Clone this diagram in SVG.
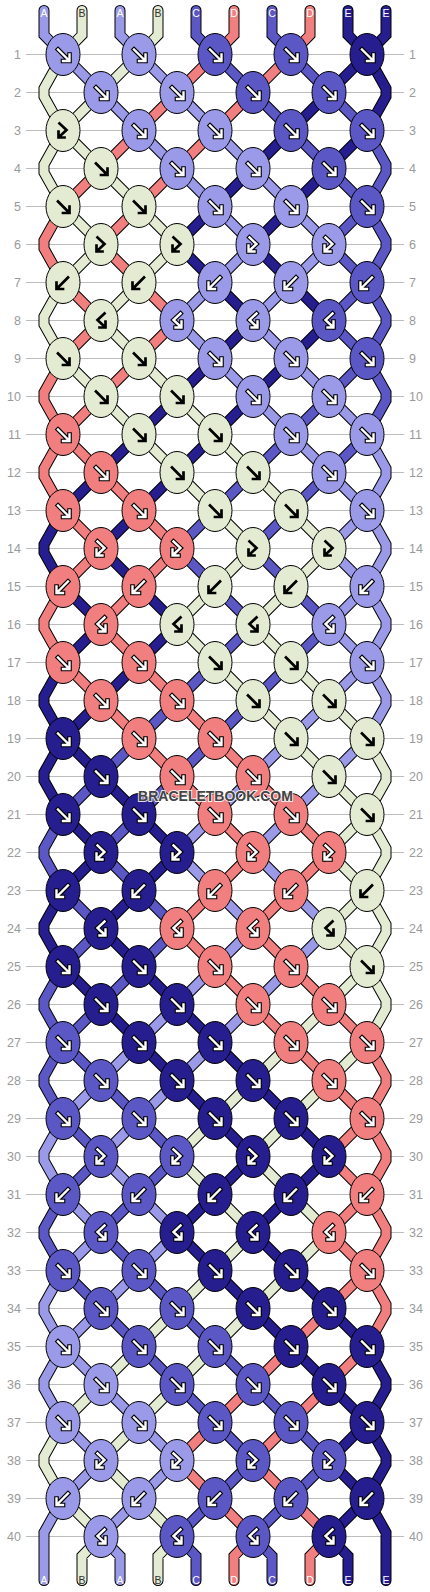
<svg xmlns="http://www.w3.org/2000/svg" xmlns:xlink="http://www.w3.org/1999/xlink" width="430" height="1592" viewBox="0 0 430 1592">
<style>
.nl{font:12.5px "Liberation Sans",Arial,sans-serif;fill:#9a9a9a;text-anchor:end}
.nr{font:12.5px "Liberation Sans",Arial,sans-serif;fill:#9a9a9a;text-anchor:start}
.lt{font:10.5px "Liberation Sans",Arial,sans-serif;text-anchor:middle}
.wl{fill:#fff}
.dl{fill:#333}
.wm{font:bold 14px "Liberation Sans",Arial,sans-serif;text-anchor:middle;fill:#444;stroke:#fff;stroke-width:2;stroke-opacity:.85;paint-order:stroke}
</style>
<defs>
<ellipse id="eA" rx="17" ry="21" fill="#9b9ae8" stroke="#000"/>
<ellipse id="eB" rx="17" ry="21" fill="#e3ecd2" stroke="#000"/>
<ellipse id="eC" rx="17" ry="21" fill="#5b58c6" stroke="#000"/>
<ellipse id="eD" rx="17" ry="21" fill="#f17f7f" stroke="#000"/>
<ellipse id="eE" rx="17" ry="21" fill="#261d8e" stroke="#000"/>
<path id="aF" fill="none" stroke-linecap="square" d="M-5,-5L5,5M0,6.5H6.5V0"/>
<path id="aB" fill="none" stroke-linecap="square" d="M5,-5L-5,5M0,6.5H-6.5V0"/>
<path id="aX" fill="none" stroke-linecap="square" d="M-3.5,-7L3.5,-0.5L-4,6.5M-4.5,1V7H1.5"/>
<path id="aY" fill="none" stroke-linecap="square" d="M3.5,-7L-3.5,-0.5L4,6.5M4.5,1V7H-1.5"/>
<g id="Fw"><use href="#aF" stroke="#000" stroke-width="4.6"/><use href="#aF" stroke="#fff" stroke-width="2.4"/></g>
<g id="Bw"><use href="#aB" stroke="#000" stroke-width="4.6"/><use href="#aB" stroke="#fff" stroke-width="2.4"/></g>
<g id="Xw"><use href="#aX" stroke="#000" stroke-width="4.6"/><use href="#aX" stroke="#fff" stroke-width="2.4"/></g>
<g id="Yw"><use href="#aY" stroke="#000" stroke-width="4.6"/><use href="#aY" stroke="#fff" stroke-width="2.4"/></g>
<g id="Af"><use href="#eA"/><use href="#Fw"/></g>
<g id="Ab"><use href="#eA"/><use href="#Bw"/></g>
<g id="Ax"><use href="#eA"/><use href="#Xw"/></g>
<g id="Ay"><use href="#eA"/><use href="#Yw"/></g>
<g id="Bf"><use href="#eB"/><use href="#aF" stroke="#000" stroke-width="2.7"/></g>
<g id="Bb"><use href="#eB"/><use href="#aB" stroke="#000" stroke-width="2.7"/></g>
<g id="Bx"><use href="#eB"/><use href="#aX" stroke="#000" stroke-width="2.7"/></g>
<g id="By"><use href="#eB"/><use href="#aY" stroke="#000" stroke-width="2.7"/></g>
<g id="Cf"><use href="#eC"/><use href="#Fw"/></g>
<g id="Cb"><use href="#eC"/><use href="#Bw"/></g>
<g id="Cx"><use href="#eC"/><use href="#Xw"/></g>
<g id="Cy"><use href="#eC"/><use href="#Yw"/></g>
<g id="Df"><use href="#eD"/><use href="#Fw"/></g>
<g id="Db"><use href="#eD"/><use href="#Bw"/></g>
<g id="Dx"><use href="#eD"/><use href="#Xw"/></g>
<g id="Dy"><use href="#eD"/><use href="#Yw"/></g>
<g id="Ef"><use href="#eE"/><use href="#Fw"/></g>
<g id="Eb"><use href="#eE"/><use href="#Bw"/></g>
<g id="Ex"><use href="#eE"/><use href="#Xw"/></g>
<g id="Ey"><use href="#eE"/><use href="#Yw"/></g>
<polyline id="p0" points="44,10.5 44,35 63,54.5 101,92.5 139,130.5 177,168.5 215,206.5 253,244.5 215,282.5 177,320.5 215,358.5 253,396.5 291,434.5 329,472.5 367,510.5 386,544.5 386,552.5 367,586.5 329,624.5 367,662.5 386,696.5 386,704.5 367,738.5 329,776.5 291,814.5 253,852.5 291,890.5 329,928.5 291,966.5 253,1004.5 215,1042.5 177,1080.5 139,1118.5 101,1156.5 139,1194.5 177,1232.5 139,1270.5 101,1308.5 63,1346.5 44,1380.5 44,1388.5 63,1422.5 101,1460.5 63,1498.5 44,1532.5 44,1580.5"/>
<polyline id="p1" points="82,10.5 82,35 63,54.5 44,88.5 44,96.5 63,130.5 44,164.5 44,172.5 63,206.5 101,244.5 63,282.5 44,316.5 44,324.5 63,358.5 101,396.5 139,434.5 177,472.5 215,510.5 253,548.5 215,586.5 177,624.5 215,662.5 253,700.5 291,738.5 329,776.5 367,814.5 386,848.5 386,856.5 367,890.5 329,928.5 367,966.5 386,1000.5 386,1008.5 367,1042.5 329,1080.5 291,1118.5 253,1156.5 291,1194.5 329,1232.5 291,1270.5 253,1308.5 215,1346.5 177,1384.5 139,1422.5 101,1460.5 139,1498.5 177,1536.5 158,1556 158,1580.5"/>
<polyline id="p2" points="120,10.5 120,35 139,54.5 177,92.5 215,130.5 253,168.5 291,206.5 329,244.5 291,282.5 253,320.5 291,358.5 329,396.5 367,434.5 386,468.5 386,476.5 367,510.5 329,548.5 367,586.5 386,620.5 386,628.5 367,662.5 329,700.5 291,738.5 253,776.5 215,814.5 177,852.5 215,890.5 253,928.5 215,966.5 177,1004.5 139,1042.5 101,1080.5 63,1118.5 44,1152.5 44,1160.5 63,1194.5 101,1232.5 63,1270.5 44,1304.5 44,1312.5 63,1346.5 101,1384.5 139,1422.5 177,1460.5 139,1498.5 101,1536.5 120,1556 120,1580.5"/>
<polyline id="p3" points="158,10.5 158,35 139,54.5 101,92.5 63,130.5 101,168.5 139,206.5 177,244.5 139,282.5 101,320.5 139,358.5 177,396.5 215,434.5 253,472.5 291,510.5 329,548.5 291,586.5 253,624.5 291,662.5 329,700.5 367,738.5 386,772.5 386,780.5 367,814.5 329,852.5 367,890.5 386,924.5 386,932.5 367,966.5 329,1004.5 291,1042.5 253,1080.5 215,1118.5 177,1156.5 215,1194.5 253,1232.5 215,1270.5 177,1308.5 139,1346.5 101,1384.5 63,1422.5 44,1456.5 44,1464.5 63,1498.5 101,1536.5 82,1556 82,1580.5"/>
<polyline id="p4" points="196,10.5 196,35 215,54.5 253,92.5 291,130.5 329,168.5 367,206.5 386,240.5 386,248.5 367,282.5 329,320.5 367,358.5 386,392.5 386,400.5 367,434.5 329,472.5 291,510.5 253,548.5 291,586.5 329,624.5 291,662.5 253,700.5 215,738.5 177,776.5 139,814.5 101,852.5 139,890.5 177,928.5 139,966.5 101,1004.5 63,1042.5 44,1076.5 44,1084.5 63,1118.5 101,1156.5 63,1194.5 44,1228.5 44,1236.5 63,1270.5 101,1308.5 139,1346.5 177,1384.5 215,1422.5 253,1460.5 215,1498.5 177,1536.5 196,1556 196,1580.5"/>
<polyline id="p5" points="234,10.5 234,35 215,54.5 177,92.5 139,130.5 101,168.5 63,206.5 44,240.5 44,248.5 63,282.5 101,320.5 63,358.5 44,392.5 44,400.5 63,434.5 101,472.5 139,510.5 177,548.5 139,586.5 101,624.5 139,662.5 177,700.5 215,738.5 253,776.5 291,814.5 329,852.5 291,890.5 253,928.5 291,966.5 329,1004.5 367,1042.5 386,1076.5 386,1084.5 367,1118.5 329,1156.5 367,1194.5 386,1228.5 386,1236.5 367,1270.5 329,1308.5 291,1346.5 253,1384.5 215,1422.5 177,1460.5 215,1498.5 253,1536.5 234,1556 234,1580.5"/>
<polyline id="p6" points="272,10.5 272,35 291,54.5 329,92.5 367,130.5 386,164.5 386,172.5 367,206.5 329,244.5 367,282.5 386,316.5 386,324.5 367,358.5 329,396.5 291,434.5 253,472.5 215,510.5 177,548.5 215,586.5 253,624.5 215,662.5 177,700.5 139,738.5 101,776.5 63,814.5 44,848.5 44,856.5 63,890.5 101,928.5 63,966.5 44,1000.5 44,1008.5 63,1042.5 101,1080.5 139,1118.5 177,1156.5 139,1194.5 101,1232.5 139,1270.5 177,1308.5 215,1346.5 253,1384.5 291,1422.5 329,1460.5 291,1498.5 253,1536.5 272,1556 272,1580.5"/>
<polyline id="p7" points="310,10.5 310,35 291,54.5 253,92.5 215,130.5 177,168.5 139,206.5 101,244.5 139,282.5 177,320.5 139,358.5 101,396.5 63,434.5 44,468.5 44,476.5 63,510.5 101,548.5 63,586.5 44,620.5 44,628.5 63,662.5 101,700.5 139,738.5 177,776.5 215,814.5 253,852.5 215,890.5 177,928.5 215,966.5 253,1004.5 291,1042.5 329,1080.5 367,1118.5 386,1152.5 386,1160.5 367,1194.5 329,1232.5 367,1270.5 386,1304.5 386,1312.5 367,1346.5 329,1384.5 291,1422.5 253,1460.5 291,1498.5 329,1536.5 310,1556 310,1580.5"/>
<polyline id="p8" points="348,10.5 348,35 367,54.5 386,88.5 386,96.5 367,130.5 329,168.5 291,206.5 253,244.5 291,282.5 329,320.5 291,358.5 253,396.5 215,434.5 177,472.5 139,510.5 101,548.5 139,586.5 177,624.5 139,662.5 101,700.5 63,738.5 44,772.5 44,780.5 63,814.5 101,852.5 63,890.5 44,924.5 44,932.5 63,966.5 101,1004.5 139,1042.5 177,1080.5 215,1118.5 253,1156.5 215,1194.5 177,1232.5 215,1270.5 253,1308.5 291,1346.5 329,1384.5 367,1422.5 386,1456.5 386,1464.5 367,1498.5 329,1536.5 348,1556 348,1580.5"/>
<polyline id="p9" points="386,10.5 386,35 367,54.5 329,92.5 291,130.5 253,168.5 215,206.5 177,244.5 215,282.5 253,320.5 215,358.5 177,396.5 139,434.5 101,472.5 63,510.5 44,544.5 44,552.5 63,586.5 101,624.5 63,662.5 44,696.5 44,704.5 63,738.5 101,776.5 139,814.5 177,852.5 139,890.5 101,928.5 139,966.5 177,1004.5 215,1042.5 253,1080.5 291,1118.5 329,1156.5 291,1194.5 253,1232.5 291,1270.5 329,1308.5 367,1346.5 386,1380.5 386,1388.5 367,1422.5 329,1460.5 367,1498.5 386,1532.5 386,1580.5"/>
</defs>
<rect width="430" height="1592" fill="#fff"/>
<g id="grid">
<path stroke="#bdbdbd" stroke-width="1" d="M26,54.5H404M26,92.5H404M26,130.5H404M26,168.5H404M26,206.5H404M26,244.5H404M26,282.5H404M26,320.5H404M26,358.5H404M26,396.5H404M26,434.5H404M26,472.5H404M26,510.5H404M26,548.5H404M26,586.5H404M26,624.5H404M26,662.5H404M26,700.5H404M26,738.5H404M26,776.5H404M26,814.5H404M26,852.5H404M26,890.5H404M26,928.5H404M26,966.5H404M26,1004.5H404M26,1042.5H404M26,1080.5H404M26,1118.5H404M26,1156.5H404M26,1194.5H404M26,1232.5H404M26,1270.5H404M26,1308.5H404M26,1346.5H404M26,1384.5H404M26,1422.5H404M26,1460.5H404M26,1498.5H404M26,1536.5H404"/>
<g class="nl">
<text x="21" y="59">1</text><text x="21" y="97">2</text><text x="21" y="135">3</text><text x="21" y="173">4</text><text x="21" y="211">5</text><text x="21" y="249">6</text><text x="21" y="287">7</text><text x="21" y="325">8</text><text x="21" y="363">9</text><text x="21" y="401">10</text><text x="21" y="439">11</text><text x="21" y="477">12</text><text x="21" y="515">13</text><text x="21" y="553">14</text><text x="21" y="591">15</text><text x="21" y="629">16</text><text x="21" y="667">17</text><text x="21" y="705">18</text><text x="21" y="743">19</text><text x="21" y="781">20</text><text x="21" y="819">21</text><text x="21" y="857">22</text><text x="21" y="895">23</text><text x="21" y="933">24</text><text x="21" y="971">25</text><text x="21" y="1009">26</text><text x="21" y="1047">27</text><text x="21" y="1085">28</text><text x="21" y="1123">29</text><text x="21" y="1161">30</text><text x="21" y="1199">31</text><text x="21" y="1237">32</text><text x="21" y="1275">33</text><text x="21" y="1313">34</text><text x="21" y="1351">35</text><text x="21" y="1389">36</text><text x="21" y="1427">37</text><text x="21" y="1465">38</text><text x="21" y="1503">39</text><text x="21" y="1541">40</text>
</g>
<g class="nr">
<text x="409" y="59">1</text><text x="409" y="97">2</text><text x="409" y="135">3</text><text x="409" y="173">4</text><text x="409" y="211">5</text><text x="409" y="249">6</text><text x="409" y="287">7</text><text x="409" y="325">8</text><text x="409" y="363">9</text><text x="409" y="401">10</text><text x="409" y="439">11</text><text x="409" y="477">12</text><text x="409" y="515">13</text><text x="409" y="553">14</text><text x="409" y="591">15</text><text x="409" y="629">16</text><text x="409" y="667">17</text><text x="409" y="705">18</text><text x="409" y="743">19</text><text x="409" y="781">20</text><text x="409" y="819">21</text><text x="409" y="857">22</text><text x="409" y="895">23</text><text x="409" y="933">24</text><text x="409" y="971">25</text><text x="409" y="1009">26</text><text x="409" y="1047">27</text><text x="409" y="1085">28</text><text x="409" y="1123">29</text><text x="409" y="1161">30</text><text x="409" y="1199">31</text><text x="409" y="1237">32</text><text x="409" y="1275">33</text><text x="409" y="1313">34</text><text x="409" y="1351">35</text><text x="409" y="1389">36</text><text x="409" y="1427">37</text><text x="409" y="1465">38</text><text x="409" y="1503">39</text><text x="409" y="1541">40</text>
</g>
</g>
<g id="connectors" fill="none" stroke-linecap="round" stroke-linejoin="miter">
<g stroke="#000" stroke-width="11">
<use href="#p0"/><use href="#p1"/><use href="#p2"/><use href="#p3"/><use href="#p4"/><use href="#p5"/><use href="#p6"/><use href="#p7"/><use href="#p8"/><use href="#p9"/>
</g>
<g stroke-width="9">
<use href="#p0" stroke="#9b9ae8"/><use href="#p1" stroke="#e3ecd2"/><use href="#p2" stroke="#9b9ae8"/><use href="#p3" stroke="#e3ecd2"/><use href="#p4" stroke="#5b58c6"/><use href="#p5" stroke="#f17f7f"/><use href="#p6" stroke="#5b58c6"/><use href="#p7" stroke="#f17f7f"/><use href="#p8" stroke="#261d8e"/><use href="#p9" stroke="#261d8e"/>
</g>
</g>
<g id="string-labels" class="lt">
<text class="wl" x="44" y="16.5">A</text><text class="dl" x="82" y="16.5">B</text><text class="wl" x="120" y="16.5">A</text><text class="dl" x="158" y="16.5">B</text><text class="wl" x="196" y="16.5">C</text><text class="wl" x="234" y="16.5">D</text><text class="wl" x="272" y="16.5">C</text><text class="wl" x="310" y="16.5">D</text><text class="wl" x="348" y="16.5">E</text><text class="wl" x="386" y="16.5">E</text>
<text class="wl" x="44" y="1584">A</text><text class="dl" x="82" y="1584">B</text><text class="wl" x="120" y="1584">A</text><text class="dl" x="158" y="1584">B</text><text class="wl" x="196" y="1584">C</text><text class="wl" x="234" y="1584">D</text><text class="wl" x="272" y="1584">C</text><text class="wl" x="310" y="1584">D</text><text class="wl" x="348" y="1584">E</text><text class="wl" x="386" y="1584">E</text>
</g>
<g id="knots">
<g id="k1-1"><use href="#Af" x="63" y="54.5"/></g><g id="k1-2"><use href="#Af" x="139" y="54.5"/></g><g id="k1-3"><use href="#Cf" x="215" y="54.5"/></g><g id="k1-4"><use href="#Cf" x="291" y="54.5"/></g><g id="k1-5"><use href="#Ef" x="367" y="54.5"/></g>
<g id="k2-1"><use href="#Af" x="101" y="92.5"/></g><g id="k2-2"><use href="#Af" x="177" y="92.5"/></g><g id="k2-3"><use href="#Cf" x="253" y="92.5"/></g><g id="k2-4"><use href="#Cf" x="329" y="92.5"/></g>
<g id="k3-1"><use href="#Bx" x="63" y="130.5"/></g><g id="k3-2"><use href="#Af" x="139" y="130.5"/></g><g id="k3-3"><use href="#Af" x="215" y="130.5"/></g><g id="k3-4"><use href="#Cf" x="291" y="130.5"/></g><g id="k3-5"><use href="#Cf" x="367" y="130.5"/></g>
<g id="k4-1"><use href="#Bf" x="101" y="168.5"/></g><g id="k4-2"><use href="#Af" x="177" y="168.5"/></g><g id="k4-3"><use href="#Af" x="253" y="168.5"/></g><g id="k4-4"><use href="#Cf" x="329" y="168.5"/></g>
<g id="k5-1"><use href="#Bf" x="63" y="206.5"/></g><g id="k5-2"><use href="#Bf" x="139" y="206.5"/></g><g id="k5-3"><use href="#Af" x="215" y="206.5"/></g><g id="k5-4"><use href="#Af" x="291" y="206.5"/></g><g id="k5-5"><use href="#Cf" x="367" y="206.5"/></g>
<g id="k6-1"><use href="#Bx" x="101" y="244.5"/></g><g id="k6-2"><use href="#Bx" x="177" y="244.5"/></g><g id="k6-3"><use href="#Ax" x="253" y="244.5"/></g><g id="k6-4"><use href="#Ax" x="329" y="244.5"/></g>
<g id="k7-1"><use href="#Bb" x="63" y="282.5"/></g><g id="k7-2"><use href="#Bb" x="139" y="282.5"/></g><g id="k7-3"><use href="#Ab" x="215" y="282.5"/></g><g id="k7-4"><use href="#Ab" x="291" y="282.5"/></g><g id="k7-5"><use href="#Cb" x="367" y="282.5"/></g>
<g id="k8-1"><use href="#By" x="101" y="320.5"/></g><g id="k8-2"><use href="#Ay" x="177" y="320.5"/></g><g id="k8-3"><use href="#Ay" x="253" y="320.5"/></g><g id="k8-4"><use href="#Cy" x="329" y="320.5"/></g>
<g id="k9-1"><use href="#Bf" x="63" y="358.5"/></g><g id="k9-2"><use href="#Bf" x="139" y="358.5"/></g><g id="k9-3"><use href="#Af" x="215" y="358.5"/></g><g id="k9-4"><use href="#Af" x="291" y="358.5"/></g><g id="k9-5"><use href="#Cf" x="367" y="358.5"/></g>
<g id="k10-1"><use href="#Bf" x="101" y="396.5"/></g><g id="k10-2"><use href="#Bf" x="177" y="396.5"/></g><g id="k10-3"><use href="#Af" x="253" y="396.5"/></g><g id="k10-4"><use href="#Af" x="329" y="396.5"/></g>
<g id="k11-1"><use href="#Df" x="63" y="434.5"/></g><g id="k11-2"><use href="#Bf" x="139" y="434.5"/></g><g id="k11-3"><use href="#Bf" x="215" y="434.5"/></g><g id="k11-4"><use href="#Af" x="291" y="434.5"/></g><g id="k11-5"><use href="#Af" x="367" y="434.5"/></g>
<g id="k12-1"><use href="#Df" x="101" y="472.5"/></g><g id="k12-2"><use href="#Bf" x="177" y="472.5"/></g><g id="k12-3"><use href="#Bf" x="253" y="472.5"/></g><g id="k12-4"><use href="#Af" x="329" y="472.5"/></g>
<g id="k13-1"><use href="#Df" x="63" y="510.5"/></g><g id="k13-2"><use href="#Df" x="139" y="510.5"/></g><g id="k13-3"><use href="#Bf" x="215" y="510.5"/></g><g id="k13-4"><use href="#Bf" x="291" y="510.5"/></g><g id="k13-5"><use href="#Af" x="367" y="510.5"/></g>
<g id="k14-1"><use href="#Dx" x="101" y="548.5"/></g><g id="k14-2"><use href="#Dx" x="177" y="548.5"/></g><g id="k14-3"><use href="#Bx" x="253" y="548.5"/></g><g id="k14-4"><use href="#Bx" x="329" y="548.5"/></g>
<g id="k15-1"><use href="#Db" x="63" y="586.5"/></g><g id="k15-2"><use href="#Db" x="139" y="586.5"/></g><g id="k15-3"><use href="#Bb" x="215" y="586.5"/></g><g id="k15-4"><use href="#Bb" x="291" y="586.5"/></g><g id="k15-5"><use href="#Ab" x="367" y="586.5"/></g>
<g id="k16-1"><use href="#Dy" x="101" y="624.5"/></g><g id="k16-2"><use href="#By" x="177" y="624.5"/></g><g id="k16-3"><use href="#By" x="253" y="624.5"/></g><g id="k16-4"><use href="#Ay" x="329" y="624.5"/></g>
<g id="k17-1"><use href="#Df" x="63" y="662.5"/></g><g id="k17-2"><use href="#Df" x="139" y="662.5"/></g><g id="k17-3"><use href="#Bf" x="215" y="662.5"/></g><g id="k17-4"><use href="#Bf" x="291" y="662.5"/></g><g id="k17-5"><use href="#Af" x="367" y="662.5"/></g>
<g id="k18-1"><use href="#Df" x="101" y="700.5"/></g><g id="k18-2"><use href="#Df" x="177" y="700.5"/></g><g id="k18-3"><use href="#Bf" x="253" y="700.5"/></g><g id="k18-4"><use href="#Bf" x="329" y="700.5"/></g>
<g id="k19-1"><use href="#Ef" x="63" y="738.5"/></g><g id="k19-2"><use href="#Df" x="139" y="738.5"/></g><g id="k19-3"><use href="#Df" x="215" y="738.5"/></g><g id="k19-4"><use href="#Bf" x="291" y="738.5"/></g><g id="k19-5"><use href="#Bf" x="367" y="738.5"/></g>
<g id="k20-1"><use href="#Ef" x="101" y="776.5"/></g><g id="k20-2"><use href="#Df" x="177" y="776.5"/></g><g id="k20-3"><use href="#Df" x="253" y="776.5"/></g><g id="k20-4"><use href="#Bf" x="329" y="776.5"/></g>
<g id="k21-1"><use href="#Ef" x="63" y="814.5"/></g><g id="k21-2"><use href="#Ef" x="139" y="814.5"/></g><g id="k21-3"><use href="#Df" x="215" y="814.5"/></g><g id="k21-4"><use href="#Df" x="291" y="814.5"/></g><g id="k21-5"><use href="#Bf" x="367" y="814.5"/></g>
<g id="k22-1"><use href="#Ex" x="101" y="852.5"/></g><g id="k22-2"><use href="#Ex" x="177" y="852.5"/></g><g id="k22-3"><use href="#Dx" x="253" y="852.5"/></g><g id="k22-4"><use href="#Dx" x="329" y="852.5"/></g>
<g id="k23-1"><use href="#Eb" x="63" y="890.5"/></g><g id="k23-2"><use href="#Eb" x="139" y="890.5"/></g><g id="k23-3"><use href="#Db" x="215" y="890.5"/></g><g id="k23-4"><use href="#Db" x="291" y="890.5"/></g><g id="k23-5"><use href="#Bb" x="367" y="890.5"/></g>
<g id="k24-1"><use href="#Ey" x="101" y="928.5"/></g><g id="k24-2"><use href="#Dy" x="177" y="928.5"/></g><g id="k24-3"><use href="#Dy" x="253" y="928.5"/></g><g id="k24-4"><use href="#By" x="329" y="928.5"/></g>
<g id="k25-1"><use href="#Ef" x="63" y="966.5"/></g><g id="k25-2"><use href="#Ef" x="139" y="966.5"/></g><g id="k25-3"><use href="#Df" x="215" y="966.5"/></g><g id="k25-4"><use href="#Df" x="291" y="966.5"/></g><g id="k25-5"><use href="#Bf" x="367" y="966.5"/></g>
<g id="k26-1"><use href="#Ef" x="101" y="1004.5"/></g><g id="k26-2"><use href="#Ef" x="177" y="1004.5"/></g><g id="k26-3"><use href="#Df" x="253" y="1004.5"/></g><g id="k26-4"><use href="#Df" x="329" y="1004.5"/></g>
<g id="k27-1"><use href="#Cf" x="63" y="1042.5"/></g><g id="k27-2"><use href="#Ef" x="139" y="1042.5"/></g><g id="k27-3"><use href="#Ef" x="215" y="1042.5"/></g><g id="k27-4"><use href="#Df" x="291" y="1042.5"/></g><g id="k27-5"><use href="#Df" x="367" y="1042.5"/></g>
<g id="k28-1"><use href="#Cf" x="101" y="1080.5"/></g><g id="k28-2"><use href="#Ef" x="177" y="1080.5"/></g><g id="k28-3"><use href="#Ef" x="253" y="1080.5"/></g><g id="k28-4"><use href="#Df" x="329" y="1080.5"/></g>
<g id="k29-1"><use href="#Cf" x="63" y="1118.5"/></g><g id="k29-2"><use href="#Cf" x="139" y="1118.5"/></g><g id="k29-3"><use href="#Ef" x="215" y="1118.5"/></g><g id="k29-4"><use href="#Ef" x="291" y="1118.5"/></g><g id="k29-5"><use href="#Df" x="367" y="1118.5"/></g>
<g id="k30-1"><use href="#Cx" x="101" y="1156.5"/></g><g id="k30-2"><use href="#Cx" x="177" y="1156.5"/></g><g id="k30-3"><use href="#Ex" x="253" y="1156.5"/></g><g id="k30-4"><use href="#Ex" x="329" y="1156.5"/></g>
<g id="k31-1"><use href="#Cb" x="63" y="1194.5"/></g><g id="k31-2"><use href="#Cb" x="139" y="1194.5"/></g><g id="k31-3"><use href="#Eb" x="215" y="1194.5"/></g><g id="k31-4"><use href="#Eb" x="291" y="1194.5"/></g><g id="k31-5"><use href="#Db" x="367" y="1194.5"/></g>
<g id="k32-1"><use href="#Cy" x="101" y="1232.5"/></g><g id="k32-2"><use href="#Ey" x="177" y="1232.5"/></g><g id="k32-3"><use href="#Ey" x="253" y="1232.5"/></g><g id="k32-4"><use href="#Dy" x="329" y="1232.5"/></g>
<g id="k33-1"><use href="#Cf" x="63" y="1270.5"/></g><g id="k33-2"><use href="#Cf" x="139" y="1270.5"/></g><g id="k33-3"><use href="#Ef" x="215" y="1270.5"/></g><g id="k33-4"><use href="#Ef" x="291" y="1270.5"/></g><g id="k33-5"><use href="#Df" x="367" y="1270.5"/></g>
<g id="k34-1"><use href="#Cf" x="101" y="1308.5"/></g><g id="k34-2"><use href="#Cf" x="177" y="1308.5"/></g><g id="k34-3"><use href="#Ef" x="253" y="1308.5"/></g><g id="k34-4"><use href="#Ef" x="329" y="1308.5"/></g>
<g id="k35-1"><use href="#Af" x="63" y="1346.5"/></g><g id="k35-2"><use href="#Cf" x="139" y="1346.5"/></g><g id="k35-3"><use href="#Cf" x="215" y="1346.5"/></g><g id="k35-4"><use href="#Ef" x="291" y="1346.5"/></g><g id="k35-5"><use href="#Ef" x="367" y="1346.5"/></g>
<g id="k36-1"><use href="#Af" x="101" y="1384.5"/></g><g id="k36-2"><use href="#Cf" x="177" y="1384.5"/></g><g id="k36-3"><use href="#Cf" x="253" y="1384.5"/></g><g id="k36-4"><use href="#Ef" x="329" y="1384.5"/></g>
<g id="k37-1"><use href="#Af" x="63" y="1422.5"/></g><g id="k37-2"><use href="#Af" x="139" y="1422.5"/></g><g id="k37-3"><use href="#Cf" x="215" y="1422.5"/></g><g id="k37-4"><use href="#Cf" x="291" y="1422.5"/></g><g id="k37-5"><use href="#Ef" x="367" y="1422.5"/></g>
<g id="k38-1"><use href="#Ax" x="101" y="1460.5"/></g><g id="k38-2"><use href="#Ax" x="177" y="1460.5"/></g><g id="k38-3"><use href="#Cx" x="253" y="1460.5"/></g><g id="k38-4"><use href="#Cx" x="329" y="1460.5"/></g>
<g id="k39-1"><use href="#Ab" x="63" y="1498.5"/></g><g id="k39-2"><use href="#Ab" x="139" y="1498.5"/></g><g id="k39-3"><use href="#Cb" x="215" y="1498.5"/></g><g id="k39-4"><use href="#Cb" x="291" y="1498.5"/></g><g id="k39-5"><use href="#Eb" x="367" y="1498.5"/></g>
<g id="k40-1"><use href="#Ay" x="101" y="1536.5"/></g><g id="k40-2"><use href="#Cy" x="177" y="1536.5"/></g><g id="k40-3"><use href="#Cy" x="253" y="1536.5"/></g><g id="k40-4"><use href="#Ey" x="329" y="1536.5"/></g>
</g>
<g id="watermark"><text class="wm" x="215.5" y="801">BRACELETBOOK.COM</text></g>
</svg>
